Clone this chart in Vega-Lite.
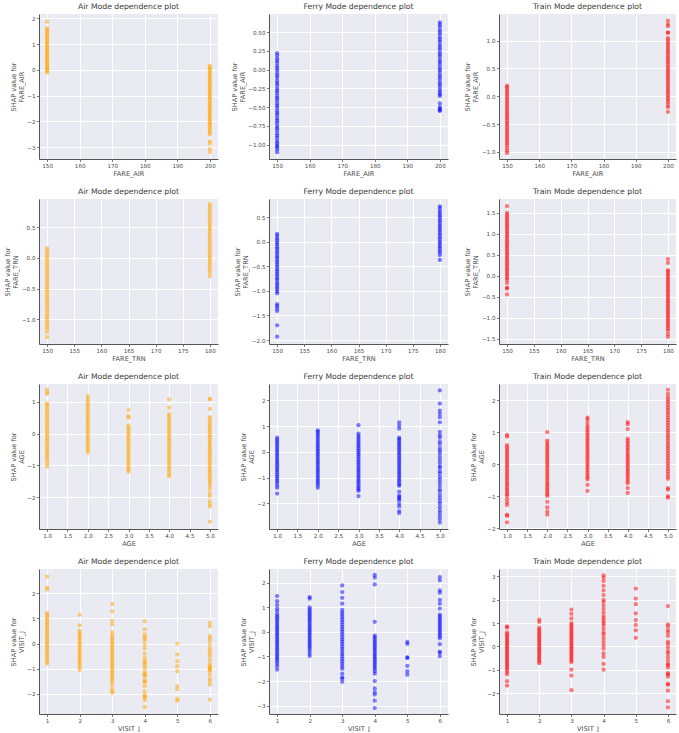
{
  "$schema": "https://vega.github.io/schema/vega-lite/v6.json",
  "padding": {"left": 4, "top": 3, "right": 4, "bottom": 0},
  "datasets": {
    "air_fare_air": [
      {"x":150,"y":1.87},{"x":150,"y":1.62},{"x":150,"y":1.56},{"x":150,"y":1.5},{"x":150,"y":1.43},{"x":150,"y":1.37},{"x":150,"y":1.3},{"x":150,"y":1.24},{"x":150,"y":1.17},{"x":150,"y":1.11},{"x":150,"y":1.04},{"x":150,"y":0.97},{"x":150,"y":0.91},{"x":150,"y":0.85},{"x":150,"y":0.78},{"x":150,"y":0.71},{"x":150,"y":0.65},{"x":150,"y":0.58},{"x":150,"y":0.52},{"x":150,"y":0.46},{"x":150,"y":0.39},{"x":150,"y":0.33},{"x":150,"y":0.26},{"x":150,"y":0.2},{"x":150,"y":0.14},{"x":150,"y":0.08},{"x":150,"y":0.02},{"x":150,"y":-0.04},{"x":150,"y":-0.11},
      {"x":200,"y":0.17},{"x":200,"y":0.1},{"x":200,"y":0.04},{"x":200,"y":-0.03},{"x":200,"y":-0.1},{"x":200,"y":-0.17},{"x":200,"y":-0.24},{"x":200,"y":-0.31},{"x":200,"y":-0.38},{"x":200,"y":-0.44},{"x":200,"y":-0.51},{"x":200,"y":-0.58},{"x":200,"y":-0.65},{"x":200,"y":-0.72},{"x":200,"y":-0.79},{"x":200,"y":-0.86},{"x":200,"y":-0.93},{"x":200,"y":-0.99},{"x":200,"y":-1.06},{"x":200,"y":-1.13},{"x":200,"y":-1.2},{"x":200,"y":-1.27},{"x":200,"y":-1.34},{"x":200,"y":-1.41},{"x":200,"y":-1.48},{"x":200,"y":-1.55},{"x":200,"y":-1.61},{"x":200,"y":-1.68},{"x":200,"y":-1.75},{"x":200,"y":-1.82},{"x":200,"y":-1.89},{"x":200,"y":-1.96},{"x":200,"y":-2.03},{"x":200,"y":-2.1},{"x":200,"y":-2.16},{"x":200,"y":-2.23},{"x":200,"y":-2.3},{"x":200,"y":-2.37},{"x":200,"y":-2.44},{"x":200,"y":-2.51},{"x":200,"y":-2.78},{"x":200,"y":-2.86},{"x":200,"y":-3.08},{"x":200,"y":-3.19}
    ],
    "ferry_fare_air": [
      {"x":150,"y":0.22},{"x":150,"y":0.19},{"x":150,"y":0.15},{"x":150,"y":0.12},{"x":150,"y":0.09},{"x":150,"y":0.05},{"x":150,"y":0.02},{"x":150,"y":-0.01},{"x":150,"y":-0.05},{"x":150,"y":-0.08},{"x":150,"y":-0.11},{"x":150,"y":-0.15},{"x":150,"y":-0.18},{"x":150,"y":-0.21},{"x":150,"y":-0.25},{"x":150,"y":-0.28},{"x":150,"y":-0.31},{"x":150,"y":-0.35},{"x":150,"y":-0.38},{"x":150,"y":-0.41},{"x":150,"y":-0.45},{"x":150,"y":-0.48},{"x":150,"y":-0.51},{"x":150,"y":-0.55},{"x":150,"y":-0.58},{"x":150,"y":-0.61},{"x":150,"y":-0.65},{"x":150,"y":-0.68},{"x":150,"y":-0.71},{"x":150,"y":-0.75},{"x":150,"y":-0.78},{"x":150,"y":-0.81},{"x":150,"y":-0.85},{"x":150,"y":-0.88},{"x":150,"y":-0.91},{"x":150,"y":-0.95},{"x":150,"y":-0.98},{"x":150,"y":-1.01},{"x":150,"y":-1.03},{"x":150,"y":-1.06},{"x":150,"y":-1.1},
      {"x":200,"y":0.63},{"x":200,"y":0.6},{"x":200,"y":0.57},{"x":200,"y":0.53},{"x":200,"y":0.5},{"x":200,"y":0.47},{"x":200,"y":0.43},{"x":200,"y":0.4},{"x":200,"y":0.37},{"x":200,"y":0.33},{"x":200,"y":0.3},{"x":200,"y":0.27},{"x":200,"y":0.23},{"x":200,"y":0.2},{"x":200,"y":0.17},{"x":200,"y":0.13},{"x":200,"y":0.1},{"x":200,"y":0.07},{"x":200,"y":0.03},{"x":200,"y":0.0},{"x":200,"y":-0.03},{"x":200,"y":-0.07},{"x":200,"y":-0.1},{"x":200,"y":-0.13},{"x":200,"y":-0.17},{"x":200,"y":-0.2},{"x":200,"y":-0.23},{"x":200,"y":-0.27},{"x":200,"y":-0.3},{"x":200,"y":-0.33},{"x":200,"y":-0.35},{"x":200,"y":-0.45},{"x":200,"y":-0.5},{"x":200,"y":-0.52},{"x":200,"y":-0.54},{"x":200,"y":-0.55}
    ],
    "train_fare_air": [
      {"x":150,"y":0.19},{"x":150,"y":0.16},{"x":150,"y":0.12},{"x":150,"y":0.08},{"x":150,"y":0.04},{"x":150,"y":0.0},{"x":150,"y":-0.04},{"x":150,"y":-0.08},{"x":150,"y":-0.12},{"x":150,"y":-0.16},{"x":150,"y":-0.2},{"x":150,"y":-0.24},{"x":150,"y":-0.28},{"x":150,"y":-0.32},{"x":150,"y":-0.36},{"x":150,"y":-0.4},{"x":150,"y":-0.44},{"x":150,"y":-0.48},{"x":150,"y":-0.52},{"x":150,"y":-0.56},{"x":150,"y":-0.6},{"x":150,"y":-0.64},{"x":150,"y":-0.68},{"x":150,"y":-0.72},{"x":150,"y":-0.76},{"x":150,"y":-0.8},{"x":150,"y":-0.84},{"x":150,"y":-0.88},{"x":150,"y":-0.93},{"x":150,"y":-0.98},{"x":150,"y":-1.02},
      {"x":200,"y":1.36},{"x":200,"y":1.3},{"x":200,"y":1.26},{"x":200,"y":1.15},{"x":200,"y":1.14},{"x":200,"y":1.05},{"x":200,"y":1.01},{"x":200,"y":0.97},{"x":200,"y":0.93},{"x":200,"y":0.89},{"x":200,"y":0.85},{"x":200,"y":0.81},{"x":200,"y":0.77},{"x":200,"y":0.73},{"x":200,"y":0.69},{"x":200,"y":0.65},{"x":200,"y":0.61},{"x":200,"y":0.57},{"x":200,"y":0.53},{"x":200,"y":0.49},{"x":200,"y":0.45},{"x":200,"y":0.41},{"x":200,"y":0.37},{"x":200,"y":0.33},{"x":200,"y":0.29},{"x":200,"y":0.25},{"x":200,"y":0.21},{"x":200,"y":0.17},{"x":200,"y":0.13},{"x":200,"y":0.09},{"x":200,"y":0.05},{"x":200,"y":0.01},{"x":200,"y":-0.03},{"x":200,"y":-0.07},{"x":200,"y":-0.11},{"x":200,"y":-0.16},{"x":200,"y":-0.2},{"x":200,"y":-0.28}
    ],
    "air_fare_trn": [
      {"x":150,"y":0.16},{"x":150,"y":0.12},{"x":150,"y":0.08},{"x":150,"y":0.04},{"x":150,"y":0.0},{"x":150,"y":-0.04},{"x":150,"y":-0.08},{"x":150,"y":-0.12},{"x":150,"y":-0.16},{"x":150,"y":-0.2},{"x":150,"y":-0.24},{"x":150,"y":-0.28},{"x":150,"y":-0.32},{"x":150,"y":-0.36},{"x":150,"y":-0.4},{"x":150,"y":-0.44},{"x":150,"y":-0.48},{"x":150,"y":-0.52},{"x":150,"y":-0.56},{"x":150,"y":-0.6},{"x":150,"y":-0.64},{"x":150,"y":-0.68},{"x":150,"y":-0.72},{"x":150,"y":-0.76},{"x":150,"y":-0.8},{"x":150,"y":-0.84},{"x":150,"y":-0.88},{"x":150,"y":-0.92},{"x":150,"y":-0.96},{"x":150,"y":-1.0},{"x":150,"y":-1.04},{"x":150,"y":-1.08},{"x":150,"y":-1.12},{"x":150,"y":-1.16},{"x":150,"y":-1.21},{"x":150,"y":-1.29},
      {"x":180,"y":0.88},{"x":180,"y":0.84},{"x":180,"y":0.8},{"x":180,"y":0.76},{"x":180,"y":0.72},{"x":180,"y":0.68},{"x":180,"y":0.64},{"x":180,"y":0.6},{"x":180,"y":0.56},{"x":180,"y":0.52},{"x":180,"y":0.48},{"x":180,"y":0.44},{"x":180,"y":0.4},{"x":180,"y":0.36},{"x":180,"y":0.32},{"x":180,"y":0.28},{"x":180,"y":0.24},{"x":180,"y":0.2},{"x":180,"y":0.16},{"x":180,"y":0.12},{"x":180,"y":0.08},{"x":180,"y":0.04},{"x":180,"y":0.0},{"x":180,"y":-0.04},{"x":180,"y":-0.08},{"x":180,"y":-0.12},{"x":180,"y":-0.16},{"x":180,"y":-0.2},{"x":180,"y":-0.25},{"x":180,"y":-0.3}
    ],
    "ferry_fare_trn": [
      {"x":150,"y":0.16},{"x":150,"y":0.12},{"x":150,"y":0.07},{"x":150,"y":0.03},{"x":150,"y":-0.02},{"x":150,"y":-0.06},{"x":150,"y":-0.11},{"x":150,"y":-0.15},{"x":150,"y":-0.2},{"x":150,"y":-0.24},{"x":150,"y":-0.29},{"x":150,"y":-0.33},{"x":150,"y":-0.38},{"x":150,"y":-0.42},{"x":150,"y":-0.47},{"x":150,"y":-0.51},{"x":150,"y":-0.56},{"x":150,"y":-0.6},{"x":150,"y":-0.65},{"x":150,"y":-0.69},{"x":150,"y":-0.74},{"x":150,"y":-0.78},{"x":150,"y":-0.83},{"x":150,"y":-0.87},{"x":150,"y":-0.92},{"x":150,"y":-0.96},{"x":150,"y":-1.01},{"x":150,"y":-1.05},{"x":150,"y":-1.27},{"x":150,"y":-1.31},{"x":150,"y":-1.36},{"x":150,"y":-1.41},{"x":150,"y":-1.7},{"x":150,"y":-1.93},
      {"x":180,"y":0.72},{"x":180,"y":0.68},{"x":180,"y":0.63},{"x":180,"y":0.59},{"x":180,"y":0.54},{"x":180,"y":0.5},{"x":180,"y":0.45},{"x":180,"y":0.41},{"x":180,"y":0.36},{"x":180,"y":0.32},{"x":180,"y":0.27},{"x":180,"y":0.23},{"x":180,"y":0.18},{"x":180,"y":0.14},{"x":180,"y":0.09},{"x":180,"y":0.05},{"x":180,"y":0.0},{"x":180,"y":-0.04},{"x":180,"y":-0.09},{"x":180,"y":-0.13},{"x":180,"y":-0.18},{"x":180,"y":-0.22},{"x":180,"y":-0.27},{"x":180,"y":-0.37}
    ],
    "train_fare_trn": [
      {"x":150,"y":1.66},{"x":150,"y":1.5},{"x":150,"y":1.45},{"x":150,"y":1.4},{"x":150,"y":1.35},{"x":150,"y":1.3},{"x":150,"y":1.25},{"x":150,"y":1.2},{"x":150,"y":1.15},{"x":150,"y":1.1},{"x":150,"y":1.05},{"x":150,"y":1.0},{"x":150,"y":0.95},{"x":150,"y":0.9},{"x":150,"y":0.85},{"x":150,"y":0.8},{"x":150,"y":0.75},{"x":150,"y":0.7},{"x":150,"y":0.65},{"x":150,"y":0.6},{"x":150,"y":0.55},{"x":150,"y":0.5},{"x":150,"y":0.45},{"x":150,"y":0.4},{"x":150,"y":0.35},{"x":150,"y":0.3},{"x":150,"y":0.25},{"x":150,"y":0.2},{"x":150,"y":0.15},{"x":150,"y":0.1},{"x":150,"y":0.05},{"x":150,"y":0.0},{"x":150,"y":-0.05},{"x":150,"y":-0.1},{"x":150,"y":-0.17},{"x":150,"y":-0.28},{"x":150,"y":-0.3},{"x":150,"y":-0.44},
      {"x":180,"y":0.4},{"x":180,"y":0.31},{"x":180,"y":0.14},{"x":180,"y":0.1},{"x":180,"y":0.05},{"x":180,"y":0.0},{"x":180,"y":-0.05},{"x":180,"y":-0.1},{"x":180,"y":-0.15},{"x":180,"y":-0.2},{"x":180,"y":-0.25},{"x":180,"y":-0.3},{"x":180,"y":-0.35},{"x":180,"y":-0.4},{"x":180,"y":-0.45},{"x":180,"y":-0.5},{"x":180,"y":-0.55},{"x":180,"y":-0.6},{"x":180,"y":-0.65},{"x":180,"y":-0.7},{"x":180,"y":-0.75},{"x":180,"y":-0.8},{"x":180,"y":-0.85},{"x":180,"y":-0.9},{"x":180,"y":-0.95},{"x":180,"y":-1.0},{"x":180,"y":-1.05},{"x":180,"y":-1.1},{"x":180,"y":-1.15},{"x":180,"y":-1.2},{"x":180,"y":-1.25},{"x":180,"y":-1.3},{"x":180,"y":-1.38},{"x":180,"y":-1.45}
    ],
    "air_age": [
      {"x":1,"y":1.38},{"x":1,"y":1.3},{"x":1,"y":1.25},{"x":1,"y":0.95},{"x":1,"y":0.9},{"x":1,"y":0.83},{"x":1,"y":0.76},{"x":1,"y":0.69},{"x":1,"y":0.62},{"x":1,"y":0.55},{"x":1,"y":0.48},{"x":1,"y":0.41},{"x":1,"y":0.34},{"x":1,"y":0.27},{"x":1,"y":0.2},{"x":1,"y":0.13},{"x":1,"y":0.06},{"x":1,"y":-0.01},{"x":1,"y":-0.08},{"x":1,"y":-0.15},{"x":1,"y":-0.22},{"x":1,"y":-0.29},{"x":1,"y":-0.36},{"x":1,"y":-0.43},{"x":1,"y":-0.5},{"x":1,"y":-0.57},{"x":1,"y":-0.64},{"x":1,"y":-0.71},{"x":1,"y":-0.78},{"x":1,"y":-0.86},{"x":1,"y":-0.95},{"x":1,"y":-1.04},
      {"x":2,"y":1.18},{"x":2,"y":1.1},{"x":2,"y":1.02},{"x":2,"y":0.95},{"x":2,"y":0.88},{"x":2,"y":0.81},{"x":2,"y":0.74},{"x":2,"y":0.67},{"x":2,"y":0.6},{"x":2,"y":0.53},{"x":2,"y":0.46},{"x":2,"y":0.39},{"x":2,"y":0.32},{"x":2,"y":0.25},{"x":2,"y":0.18},{"x":2,"y":0.11},{"x":2,"y":0.04},{"x":2,"y":-0.03},{"x":2,"y":-0.1},{"x":2,"y":-0.17},{"x":2,"y":-0.24},{"x":2,"y":-0.31},{"x":2,"y":-0.38},{"x":2,"y":-0.45},{"x":2,"y":-0.52},{"x":2,"y":-0.6},
      {"x":3,"y":0.74},{"x":3,"y":0.55},{"x":3,"y":0.5},{"x":3,"y":0.25},{"x":3,"y":0.19},{"x":3,"y":0.12},{"x":3,"y":0.05},{"x":3,"y":-0.02},{"x":3,"y":-0.09},{"x":3,"y":-0.16},{"x":3,"y":-0.23},{"x":3,"y":-0.3},{"x":3,"y":-0.37},{"x":3,"y":-0.44},{"x":3,"y":-0.51},{"x":3,"y":-0.58},{"x":3,"y":-0.65},{"x":3,"y":-0.72},{"x":3,"y":-0.79},{"x":3,"y":-0.86},{"x":3,"y":-0.93},{"x":3,"y":-1.0},{"x":3,"y":-1.08},{"x":3,"y":-1.14},{"x":3,"y":-1.2},
      {"x":4,"y":1.08},{"x":4,"y":0.82},{"x":4,"y":0.62},{"x":4,"y":0.55},{"x":4,"y":0.48},{"x":4,"y":0.41},{"x":4,"y":0.34},{"x":4,"y":0.27},{"x":4,"y":0.2},{"x":4,"y":0.13},{"x":4,"y":0.06},{"x":4,"y":-0.01},{"x":4,"y":-0.08},{"x":4,"y":-0.15},{"x":4,"y":-0.22},{"x":4,"y":-0.29},{"x":4,"y":-0.36},{"x":4,"y":-0.43},{"x":4,"y":-0.5},{"x":4,"y":-0.57},{"x":4,"y":-0.64},{"x":4,"y":-0.71},{"x":4,"y":-0.78},{"x":4,"y":-0.85},{"x":4,"y":-0.92},{"x":4,"y":-0.99},{"x":4,"y":-1.06},{"x":4,"y":-1.13},{"x":4,"y":-1.2},{"x":4,"y":-1.28},{"x":4,"y":-1.34},
      {"x":5,"y":1.1},{"x":5,"y":1.08},{"x":5,"y":0.78},{"x":5,"y":0.52},{"x":5,"y":0.45},{"x":5,"y":0.38},{"x":5,"y":0.31},{"x":5,"y":0.24},{"x":5,"y":0.17},{"x":5,"y":0.1},{"x":5,"y":0.03},{"x":5,"y":-0.04},{"x":5,"y":-0.11},{"x":5,"y":-0.18},{"x":5,"y":-0.25},{"x":5,"y":-0.32},{"x":5,"y":-0.39},{"x":5,"y":-0.46},{"x":5,"y":-0.53},{"x":5,"y":-0.6},{"x":5,"y":-0.67},{"x":5,"y":-0.74},{"x":5,"y":-0.81},{"x":5,"y":-0.88},{"x":5,"y":-0.95},{"x":5,"y":-1.02},{"x":5,"y":-1.09},{"x":5,"y":-1.16},{"x":5,"y":-1.23},{"x":5,"y":-1.3},{"x":5,"y":-1.37},{"x":5,"y":-1.44},{"x":5,"y":-1.51},{"x":5,"y":-1.58},{"x":5,"y":-1.65},{"x":5,"y":-1.75},{"x":5,"y":-1.88},{"x":5,"y":-1.97},{"x":5,"y":-2.12},{"x":5,"y":-2.22},{"x":5,"y":-2.29},{"x":5,"y":-2.77}
    ],
    "ferry_age": [
      {"x":1,"y":0.55},{"x":1,"y":0.48},{"x":1,"y":0.4},{"x":1,"y":0.32},{"x":1,"y":0.24},{"x":1,"y":0.16},{"x":1,"y":0.08},{"x":1,"y":0.0},{"x":1,"y":-0.08},{"x":1,"y":-0.16},{"x":1,"y":-0.24},{"x":1,"y":-0.32},{"x":1,"y":-0.4},{"x":1,"y":-0.48},{"x":1,"y":-0.56},{"x":1,"y":-0.64},{"x":1,"y":-0.72},{"x":1,"y":-0.8},{"x":1,"y":-0.88},{"x":1,"y":-0.96},{"x":1,"y":-1.04},{"x":1,"y":-1.12},{"x":1,"y":-1.2},{"x":1,"y":-1.3},{"x":1,"y":-1.4},{"x":1,"y":-1.62},
      {"x":2,"y":0.84},{"x":2,"y":0.78},{"x":2,"y":0.7},{"x":2,"y":0.62},{"x":2,"y":0.54},{"x":2,"y":0.46},{"x":2,"y":0.38},{"x":2,"y":0.3},{"x":2,"y":0.22},{"x":2,"y":0.14},{"x":2,"y":0.06},{"x":2,"y":-0.02},{"x":2,"y":-0.1},{"x":2,"y":-0.18},{"x":2,"y":-0.26},{"x":2,"y":-0.34},{"x":2,"y":-0.42},{"x":2,"y":-0.5},{"x":2,"y":-0.58},{"x":2,"y":-0.66},{"x":2,"y":-0.74},{"x":2,"y":-0.82},{"x":2,"y":-0.9},{"x":2,"y":-0.98},{"x":2,"y":-1.06},{"x":2,"y":-1.14},{"x":2,"y":-1.22},{"x":2,"y":-1.3},{"x":2,"y":-1.4},
      {"x":3,"y":1.04},{"x":3,"y":0.71},{"x":3,"y":0.62},{"x":3,"y":0.54},{"x":3,"y":0.46},{"x":3,"y":0.38},{"x":3,"y":0.3},{"x":3,"y":0.22},{"x":3,"y":0.14},{"x":3,"y":0.06},{"x":3,"y":-0.02},{"x":3,"y":-0.1},{"x":3,"y":-0.18},{"x":3,"y":-0.26},{"x":3,"y":-0.34},{"x":3,"y":-0.42},{"x":3,"y":-0.5},{"x":3,"y":-0.58},{"x":3,"y":-0.66},{"x":3,"y":-0.74},{"x":3,"y":-0.82},{"x":3,"y":-0.9},{"x":3,"y":-0.98},{"x":3,"y":-1.06},{"x":3,"y":-1.14},{"x":3,"y":-1.22},{"x":3,"y":-1.3},{"x":3,"y":-1.38},{"x":3,"y":-1.45},{"x":3,"y":-1.52},{"x":3,"y":-1.72},
      {"x":4,"y":1.15},{"x":4,"y":1.02},{"x":4,"y":0.9},{"x":4,"y":0.55},{"x":4,"y":0.5},{"x":4,"y":0.42},{"x":4,"y":0.34},{"x":4,"y":0.26},{"x":4,"y":0.18},{"x":4,"y":0.1},{"x":4,"y":0.02},{"x":4,"y":-0.06},{"x":4,"y":-0.14},{"x":4,"y":-0.22},{"x":4,"y":-0.3},{"x":4,"y":-0.38},{"x":4,"y":-0.46},{"x":4,"y":-0.54},{"x":4,"y":-0.62},{"x":4,"y":-0.7},{"x":4,"y":-0.78},{"x":4,"y":-0.86},{"x":4,"y":-0.94},{"x":4,"y":-1.02},{"x":4,"y":-1.1},{"x":4,"y":-1.18},{"x":4,"y":-1.26},{"x":4,"y":-1.32},{"x":4,"y":-1.55},{"x":4,"y":-1.7},{"x":4,"y":-1.76},{"x":4,"y":-1.82},{"x":4,"y":-1.88},{"x":4,"y":-2.02},{"x":4,"y":-2.12},{"x":4,"y":-2.3},{"x":4,"y":-2.38},
      {"x":5,"y":2.39},{"x":5,"y":1.88},{"x":5,"y":1.6},{"x":5,"y":1.48},{"x":5,"y":1.35},{"x":5,"y":1.15},{"x":5,"y":0.78},{"x":5,"y":0.65},{"x":5,"y":0.55},{"x":5,"y":0.4},{"x":5,"y":0.3},{"x":5,"y":0.15},{"x":5,"y":0.05},{"x":5,"y":-0.05},{"x":5,"y":-0.18},{"x":5,"y":-0.3},{"x":5,"y":-0.42},{"x":5,"y":-0.55},{"x":5,"y":-0.62},{"x":5,"y":-0.75},{"x":5,"y":-0.85},{"x":5,"y":-0.98},{"x":5,"y":-1.08},{"x":5,"y":-1.2},{"x":5,"y":-1.32},{"x":5,"y":-1.45},{"x":5,"y":-1.55},{"x":5,"y":-1.68},{"x":5,"y":-1.8},{"x":5,"y":-1.92},{"x":5,"y":-2.02},{"x":5,"y":-2.15},{"x":5,"y":-2.28},{"x":5,"y":-2.38},{"x":5,"y":-2.5},{"x":5,"y":-2.62},{"x":5,"y":-2.75}
    ],
    "train_age": [
      {"x":1,"y":0.92},{"x":1,"y":0.86},{"x":1,"y":0.6},{"x":1,"y":0.53},{"x":1,"y":0.46},{"x":1,"y":0.39},{"x":1,"y":0.32},{"x":1,"y":0.25},{"x":1,"y":0.18},{"x":1,"y":0.11},{"x":1,"y":0.04},{"x":1,"y":-0.03},{"x":1,"y":-0.1},{"x":1,"y":-0.17},{"x":1,"y":-0.24},{"x":1,"y":-0.31},{"x":1,"y":-0.38},{"x":1,"y":-0.45},{"x":1,"y":-0.52},{"x":1,"y":-0.59},{"x":1,"y":-0.66},{"x":1,"y":-0.73},{"x":1,"y":-0.8},{"x":1,"y":-0.87},{"x":1,"y":-0.94},{"x":1,"y":-1.0},{"x":1,"y":-1.1},{"x":1,"y":-1.2},{"x":1,"y":-1.28},{"x":1,"y":-1.58},{"x":1,"y":-1.62},{"x":1,"y":-1.82},
      {"x":2,"y":1.0},{"x":2,"y":0.74},{"x":2,"y":0.67},{"x":2,"y":0.6},{"x":2,"y":0.53},{"x":2,"y":0.46},{"x":2,"y":0.39},{"x":2,"y":0.32},{"x":2,"y":0.25},{"x":2,"y":0.18},{"x":2,"y":0.11},{"x":2,"y":0.04},{"x":2,"y":-0.03},{"x":2,"y":-0.1},{"x":2,"y":-0.17},{"x":2,"y":-0.24},{"x":2,"y":-0.31},{"x":2,"y":-0.38},{"x":2,"y":-0.45},{"x":2,"y":-0.52},{"x":2,"y":-0.59},{"x":2,"y":-0.66},{"x":2,"y":-0.73},{"x":2,"y":-0.8},{"x":2,"y":-0.87},{"x":2,"y":-0.94},{"x":2,"y":-1.0},{"x":2,"y":-1.18},{"x":2,"y":-1.35},{"x":2,"y":-1.48},{"x":2,"y":-1.58},
      {"x":3,"y":1.46},{"x":3,"y":1.4},{"x":3,"y":1.3},{"x":3,"y":1.2},{"x":3,"y":1.13},{"x":3,"y":1.06},{"x":3,"y":0.99},{"x":3,"y":0.92},{"x":3,"y":0.85},{"x":3,"y":0.78},{"x":3,"y":0.71},{"x":3,"y":0.64},{"x":3,"y":0.57},{"x":3,"y":0.5},{"x":3,"y":0.43},{"x":3,"y":0.36},{"x":3,"y":0.29},{"x":3,"y":0.22},{"x":3,"y":0.15},{"x":3,"y":0.08},{"x":3,"y":0.01},{"x":3,"y":-0.06},{"x":3,"y":-0.13},{"x":3,"y":-0.2},{"x":3,"y":-0.27},{"x":3,"y":-0.34},{"x":3,"y":-0.41},{"x":3,"y":-0.48},{"x":3,"y":-0.65},{"x":3,"y":-0.84},
      {"x":4,"y":1.32},{"x":4,"y":1.25},{"x":4,"y":1.1},{"x":4,"y":0.8},{"x":4,"y":0.73},{"x":4,"y":0.66},{"x":4,"y":0.59},{"x":4,"y":0.52},{"x":4,"y":0.45},{"x":4,"y":0.38},{"x":4,"y":0.31},{"x":4,"y":0.24},{"x":4,"y":0.17},{"x":4,"y":0.1},{"x":4,"y":0.03},{"x":4,"y":-0.04},{"x":4,"y":-0.11},{"x":4,"y":-0.18},{"x":4,"y":-0.25},{"x":4,"y":-0.32},{"x":4,"y":-0.39},{"x":4,"y":-0.46},{"x":4,"y":-0.53},{"x":4,"y":-0.6},{"x":4,"y":-0.75},{"x":4,"y":-0.9},
      {"x":5,"y":2.33},{"x":5,"y":2.2},{"x":5,"y":2.1},{"x":5,"y":2.02},{"x":5,"y":1.94},{"x":5,"y":1.86},{"x":5,"y":1.78},{"x":5,"y":1.7},{"x":5,"y":1.62},{"x":5,"y":1.54},{"x":5,"y":1.46},{"x":5,"y":1.38},{"x":5,"y":1.3},{"x":5,"y":1.22},{"x":5,"y":1.14},{"x":5,"y":1.06},{"x":5,"y":0.98},{"x":5,"y":0.9},{"x":5,"y":0.82},{"x":5,"y":0.74},{"x":5,"y":0.66},{"x":5,"y":0.58},{"x":5,"y":0.5},{"x":5,"y":0.42},{"x":5,"y":0.34},{"x":5,"y":0.26},{"x":5,"y":0.18},{"x":5,"y":0.1},{"x":5,"y":0.02},{"x":5,"y":-0.06},{"x":5,"y":-0.14},{"x":5,"y":-0.22},{"x":5,"y":-0.3},{"x":5,"y":-0.38},{"x":5,"y":-0.46},{"x":5,"y":-0.75},{"x":5,"y":-0.8},{"x":5,"y":-1.0},{"x":5,"y":-1.05}
    ],
    "air_visit_j": [
      {"x":1,"y":2.66},{"x":1,"y":2.22},{"x":1,"y":2.15},{"x":1,"y":1.22},{"x":1,"y":1.14},{"x":1,"y":1.06},{"x":1,"y":0.98},{"x":1,"y":0.9},{"x":1,"y":0.82},{"x":1,"y":0.74},{"x":1,"y":0.66},{"x":1,"y":0.58},{"x":1,"y":0.5},{"x":1,"y":0.42},{"x":1,"y":0.34},{"x":1,"y":0.26},{"x":1,"y":0.18},{"x":1,"y":0.1},{"x":1,"y":0.02},{"x":1,"y":-0.06},{"x":1,"y":-0.14},{"x":1,"y":-0.22},{"x":1,"y":-0.3},{"x":1,"y":-0.38},{"x":1,"y":-0.46},{"x":1,"y":-0.55},{"x":1,"y":-0.62},{"x":1,"y":-0.72},{"x":1,"y":-0.8},
      {"x":2,"y":1.15},{"x":2,"y":0.72},{"x":2,"y":0.5},{"x":2,"y":0.42},{"x":2,"y":0.34},{"x":2,"y":0.26},{"x":2,"y":0.18},{"x":2,"y":0.1},{"x":2,"y":0.02},{"x":2,"y":-0.06},{"x":2,"y":-0.14},{"x":2,"y":-0.22},{"x":2,"y":-0.3},{"x":2,"y":-0.38},{"x":2,"y":-0.46},{"x":2,"y":-0.54},{"x":2,"y":-0.62},{"x":2,"y":-0.7},{"x":2,"y":-0.78},{"x":2,"y":-0.86},{"x":2,"y":-0.95},{"x":2,"y":-1.05},
      {"x":3,"y":1.57},{"x":3,"y":1.28},{"x":3,"y":0.9},{"x":3,"y":0.76},{"x":3,"y":0.45},{"x":3,"y":0.32},{"x":3,"y":0.24},{"x":3,"y":0.16},{"x":3,"y":0.08},{"x":3,"y":0.0},{"x":3,"y":-0.08},{"x":3,"y":-0.16},{"x":3,"y":-0.24},{"x":3,"y":-0.32},{"x":3,"y":-0.4},{"x":3,"y":-0.48},{"x":3,"y":-0.56},{"x":3,"y":-0.64},{"x":3,"y":-0.72},{"x":3,"y":-0.8},{"x":3,"y":-0.88},{"x":3,"y":-0.96},{"x":3,"y":-1.04},{"x":3,"y":-1.12},{"x":3,"y":-1.2},{"x":3,"y":-1.28},{"x":3,"y":-1.36},{"x":3,"y":-1.44},{"x":3,"y":-1.52},{"x":3,"y":-1.65},{"x":3,"y":-1.8},{"x":3,"y":-1.9},{"x":3,"y":-1.96},
      {"x":4,"y":0.88},{"x":4,"y":0.56},{"x":4,"y":0.36},{"x":4,"y":0.26},{"x":4,"y":0.2},{"x":4,"y":0.1},{"x":4,"y":-0.05},{"x":4,"y":-0.2},{"x":4,"y":-0.4},{"x":4,"y":-0.55},{"x":4,"y":-0.68},{"x":4,"y":-0.75},{"x":4,"y":-0.8},{"x":4,"y":-0.9},{"x":4,"y":-1.0},{"x":4,"y":-1.15},{"x":4,"y":-1.22},{"x":4,"y":-1.26},{"x":4,"y":-1.3},{"x":4,"y":-1.45},{"x":4,"y":-1.5},{"x":4,"y":-1.55},{"x":4,"y":-1.7},{"x":4,"y":-1.9},{"x":4,"y":-2.05},{"x":4,"y":-2.1},{"x":4,"y":-2.15},{"x":4,"y":-2.25},{"x":4,"y":-2.53},
      {"x":5,"y":0.0},{"x":5,"y":-0.44},{"x":5,"y":-0.7},{"x":5,"y":-0.9},{"x":5,"y":-1.1},{"x":5,"y":-1.7},{"x":5,"y":-1.82},{"x":5,"y":-2.19},{"x":5,"y":-2.27},
      {"x":6,"y":0.82},{"x":6,"y":0.69},{"x":6,"y":0.29},{"x":6,"y":0.2},{"x":6,"y":0.09},{"x":6,"y":-0.05},{"x":6,"y":-0.2},{"x":6,"y":-0.3},{"x":6,"y":-0.4},{"x":6,"y":-0.5},{"x":6,"y":-0.65},{"x":6,"y":-0.8},{"x":6,"y":-0.9},{"x":6,"y":-0.95},{"x":6,"y":-1.0},{"x":6,"y":-1.05},{"x":6,"y":-1.1},{"x":6,"y":-1.25},{"x":6,"y":-1.4},{"x":6,"y":-1.5},{"x":6,"y":-1.63},{"x":6,"y":-2.23}
    ],
    "ferry_visit_j": [
      {"x":1,"y":1.46},{"x":1,"y":1.25},{"x":1,"y":1.1},{"x":1,"y":0.95},{"x":1,"y":0.85},{"x":1,"y":0.72},{"x":1,"y":0.64},{"x":1,"y":0.56},{"x":1,"y":0.48},{"x":1,"y":0.4},{"x":1,"y":0.32},{"x":1,"y":0.24},{"x":1,"y":0.16},{"x":1,"y":0.08},{"x":1,"y":0.0},{"x":1,"y":-0.08},{"x":1,"y":-0.16},{"x":1,"y":-0.24},{"x":1,"y":-0.32},{"x":1,"y":-0.4},{"x":1,"y":-0.48},{"x":1,"y":-0.56},{"x":1,"y":-0.64},{"x":1,"y":-0.72},{"x":1,"y":-0.8},{"x":1,"y":-0.88},{"x":1,"y":-0.96},{"x":1,"y":-1.04},{"x":1,"y":-1.12},{"x":1,"y":-1.2},{"x":1,"y":-1.3},{"x":1,"y":-1.4},{"x":1,"y":-1.53},
      {"x":2,"y":1.42},{"x":2,"y":1.35},{"x":2,"y":1.0},{"x":2,"y":0.92},{"x":2,"y":0.84},{"x":2,"y":0.76},{"x":2,"y":0.68},{"x":2,"y":0.6},{"x":2,"y":0.52},{"x":2,"y":0.44},{"x":2,"y":0.36},{"x":2,"y":0.28},{"x":2,"y":0.2},{"x":2,"y":0.12},{"x":2,"y":0.04},{"x":2,"y":-0.04},{"x":2,"y":-0.12},{"x":2,"y":-0.2},{"x":2,"y":-0.28},{"x":2,"y":-0.36},{"x":2,"y":-0.44},{"x":2,"y":-0.52},{"x":2,"y":-0.6},{"x":2,"y":-0.68},{"x":2,"y":-0.78},{"x":2,"y":-0.88},{"x":2,"y":-0.98},
      {"x":3,"y":1.89},{"x":3,"y":1.62},{"x":3,"y":1.39},{"x":3,"y":1.15},{"x":3,"y":0.9},{"x":3,"y":0.8},{"x":3,"y":0.7},{"x":3,"y":0.6},{"x":3,"y":0.5},{"x":3,"y":0.4},{"x":3,"y":0.3},{"x":3,"y":0.2},{"x":3,"y":0.1},{"x":3,"y":0.0},{"x":3,"y":-0.1},{"x":3,"y":-0.2},{"x":3,"y":-0.3},{"x":3,"y":-0.4},{"x":3,"y":-0.5},{"x":3,"y":-0.6},{"x":3,"y":-0.7},{"x":3,"y":-0.8},{"x":3,"y":-0.9},{"x":3,"y":-1.0},{"x":3,"y":-1.1},{"x":3,"y":-1.2},{"x":3,"y":-1.3},{"x":3,"y":-1.4},{"x":3,"y":-1.5},{"x":3,"y":-1.7},{"x":3,"y":-1.85},{"x":3,"y":-1.9},{"x":3,"y":-2.03},
      {"x":4,"y":2.32},{"x":4,"y":2.21},{"x":4,"y":1.93},{"x":4,"y":0.41},{"x":4,"y":-0.15},{"x":4,"y":-0.22},{"x":4,"y":-0.3},{"x":4,"y":-0.38},{"x":4,"y":-0.46},{"x":4,"y":-0.54},{"x":4,"y":-0.62},{"x":4,"y":-0.7},{"x":4,"y":-0.78},{"x":4,"y":-0.86},{"x":4,"y":-0.94},{"x":4,"y":-1.02},{"x":4,"y":-1.1},{"x":4,"y":-1.18},{"x":4,"y":-1.26},{"x":4,"y":-1.34},{"x":4,"y":-1.42},{"x":4,"y":-1.5},{"x":4,"y":-1.6},{"x":4,"y":-1.7},{"x":4,"y":-2.0},{"x":4,"y":-2.3},{"x":4,"y":-2.45},{"x":4,"y":-2.55},{"x":4,"y":-2.8},{"x":4,"y":-3.1},
      {"x":5,"y":-0.41},{"x":5,"y":-0.49},{"x":5,"y":-1.04},{"x":5,"y":-1.06},{"x":5,"y":-1.38},{"x":5,"y":-1.61},{"x":5,"y":-1.74},
      {"x":6,"y":2.23},{"x":6,"y":2.1},{"x":6,"y":1.69},{"x":6,"y":1.59},{"x":6,"y":1.3},{"x":6,"y":1.15},{"x":6,"y":0.95},{"x":6,"y":0.7},{"x":6,"y":0.62},{"x":6,"y":0.54},{"x":6,"y":0.46},{"x":6,"y":0.38},{"x":6,"y":0.3},{"x":6,"y":0.22},{"x":6,"y":0.14},{"x":6,"y":0.06},{"x":6,"y":-0.02},{"x":6,"y":-0.1},{"x":6,"y":-0.18},{"x":6,"y":-0.26},{"x":6,"y":-0.5},{"x":6,"y":-0.8},{"x":6,"y":-0.85},{"x":6,"y":-0.99}
    ],
    "train_visit_j": [
      {"x":1,"y":0.86},{"x":1,"y":0.8},{"x":1,"y":0.6},{"x":1,"y":0.52},{"x":1,"y":0.44},{"x":1,"y":0.36},{"x":1,"y":0.28},{"x":1,"y":0.2},{"x":1,"y":0.12},{"x":1,"y":0.04},{"x":1,"y":-0.04},{"x":1,"y":-0.12},{"x":1,"y":-0.2},{"x":1,"y":-0.28},{"x":1,"y":-0.36},{"x":1,"y":-0.44},{"x":1,"y":-0.52},{"x":1,"y":-0.6},{"x":1,"y":-0.68},{"x":1,"y":-0.76},{"x":1,"y":-0.84},{"x":1,"y":-0.92},{"x":1,"y":-1.0},{"x":1,"y":-1.1},{"x":1,"y":-1.2},{"x":1,"y":-1.49},{"x":1,"y":-1.68},
      {"x":2,"y":1.15},{"x":2,"y":1.05},{"x":2,"y":0.8},{"x":2,"y":0.72},{"x":2,"y":0.64},{"x":2,"y":0.56},{"x":2,"y":0.48},{"x":2,"y":0.4},{"x":2,"y":0.32},{"x":2,"y":0.24},{"x":2,"y":0.16},{"x":2,"y":0.08},{"x":2,"y":0.0},{"x":2,"y":-0.08},{"x":2,"y":-0.16},{"x":2,"y":-0.24},{"x":2,"y":-0.32},{"x":2,"y":-0.4},{"x":2,"y":-0.48},{"x":2,"y":-0.56},{"x":2,"y":-0.64},{"x":2,"y":-0.72},
      {"x":3,"y":1.58},{"x":3,"y":1.4},{"x":3,"y":1.2},{"x":3,"y":1.0},{"x":3,"y":0.92},{"x":3,"y":0.84},{"x":3,"y":0.76},{"x":3,"y":0.68},{"x":3,"y":0.6},{"x":3,"y":0.52},{"x":3,"y":0.44},{"x":3,"y":0.36},{"x":3,"y":0.28},{"x":3,"y":0.2},{"x":3,"y":0.12},{"x":3,"y":0.04},{"x":3,"y":-0.04},{"x":3,"y":-0.12},{"x":3,"y":-0.2},{"x":3,"y":-0.28},{"x":3,"y":-0.36},{"x":3,"y":-0.44},{"x":3,"y":-0.52},{"x":3,"y":-0.6},{"x":3,"y":-0.68},{"x":3,"y":-1.0},{"x":3,"y":-1.25},{"x":3,"y":-1.88},
      {"x":4,"y":3.05},{"x":4,"y":2.95},{"x":4,"y":2.8},{"x":4,"y":2.6},{"x":4,"y":2.4},{"x":4,"y":2.2},{"x":4,"y":2.0},{"x":4,"y":1.9},{"x":4,"y":1.75},{"x":4,"y":1.6},{"x":4,"y":1.45},{"x":4,"y":1.3},{"x":4,"y":1.2},{"x":4,"y":1.1},{"x":4,"y":1.0},{"x":4,"y":0.9},{"x":4,"y":0.75},{"x":4,"y":0.6},{"x":4,"y":0.5},{"x":4,"y":0.35},{"x":4,"y":0.2},{"x":4,"y":0.05},{"x":4,"y":-0.1},{"x":4,"y":-0.3},{"x":4,"y":-0.45},{"x":4,"y":-0.75},{"x":4,"y":-1.0},
      {"x":5,"y":2.48},{"x":5,"y":2.05},{"x":5,"y":1.81},{"x":5,"y":1.42},{"x":5,"y":1.13},{"x":5,"y":0.92},{"x":5,"y":0.69},{"x":5,"y":0.37},
      {"x":6,"y":1.73},{"x":6,"y":0.95},{"x":6,"y":0.85},{"x":6,"y":0.7},{"x":6,"y":0.6},{"x":6,"y":0.45},{"x":6,"y":0.2},{"x":6,"y":0.1},{"x":6,"y":-0.05},{"x":6,"y":-0.2},{"x":6,"y":-0.3},{"x":6,"y":-0.45},{"x":6,"y":-0.6},{"x":6,"y":-0.75},{"x":6,"y":-0.8},{"x":6,"y":-0.9},{"x":6,"y":-1.15},{"x":6,"y":-1.2},{"x":6,"y":-1.3},{"x":6,"y":-1.6},{"x":6,"y":-1.65},{"x":6,"y":-1.9},{"x":6,"y":-2.35},{"x":6,"y":-2.62}
    ]
  },
  "columns": 3,
  "spacing": {"row": 40, "column": 51},
  "bounds": "flush",
  "concat": [
    {"title": "Air Mode dependence plot", "width": 179, "height": 145, "data": {"name": "air_fare_air"}, "mark": {"type": "point", "color": "#FFA500"},
     "encoding": {"x": {"field": "x", "type": "quantitative", "scale": {"domain": [147.5, 202.5], "nice": false, "zero": false}, "axis": {"title": "FARE_AIR", "values": [150,160,170,180,190,200]}},
                  "y": {"field": "y", "type": "quantitative", "scale": {"domain": [-3.46, 2.17], "nice": false, "zero": false}, "axis": {"title": ["SHAP value for", "FARE_AIR"], "values": [-3,-2,-1,0,1,2]}}}},
    {"title": "Ferry Mode dependence plot", "width": 179, "height": 145, "data": {"name": "ferry_fare_air"}, "mark": {"type": "point", "color": "#0000FF"},
     "encoding": {"x": {"field": "x", "type": "quantitative", "scale": {"domain": [147.5, 202.5], "nice": false, "zero": false}, "axis": {"title": "FARE_AIR", "values": [150,160,170,180,190,200]}},
                  "y": {"field": "y", "type": "quantitative", "scale": {"domain": [-1.19, 0.74], "nice": false, "zero": false}, "axis": {"title": ["SHAP value for", "FARE_AIR"], "values": [-1,-0.75,-0.5,-0.25,0,0.25,0.5], "format": ".2f"}}}},
    {"title": "Train Mode dependence plot", "width": 177, "height": 145, "data": {"name": "train_fare_air"}, "mark": {"type": "point", "color": "#FF0000"},
     "encoding": {"x": {"field": "x", "type": "quantitative", "scale": {"domain": [147.5, 202.5], "nice": false, "zero": false}, "axis": {"title": "FARE_AIR", "values": [150,160,170,180,190,200]}},
                  "y": {"field": "y", "type": "quantitative", "scale": {"domain": [-1.13, 1.48], "nice": false, "zero": false}, "axis": {"title": ["SHAP value for", "FARE_AIR"], "values": [-1,-0.5,0,0.5,1], "format": ".1f"}}}},
    {"title": "Air Mode dependence plot", "width": 179, "height": 145, "data": {"name": "air_fare_trn"}, "mark": {"type": "point", "color": "#FFA500"},
     "encoding": {"x": {"field": "x", "type": "quantitative", "scale": {"domain": [148.5, 181.5], "nice": false, "zero": false}, "axis": {"title": "FARE_TRN", "values": [150,155,160,165,170,175,180]}},
                  "y": {"field": "y", "type": "quantitative", "scale": {"domain": [-1.4, 0.96], "nice": false, "zero": false}, "axis": {"title": ["SHAP value for", "FARE_TRN"], "values": [-1,-0.5,0,0.5], "format": ".1f"}}}},
    {"title": "Ferry Mode dependence plot", "width": 179, "height": 145, "data": {"name": "ferry_fare_trn"}, "mark": {"type": "point", "color": "#0000FF"},
     "encoding": {"x": {"field": "x", "type": "quantitative", "scale": {"domain": [148.5, 181.5], "nice": false, "zero": false}, "axis": {"title": "FARE_TRN", "values": [150,155,160,165,170,175,180]}},
                  "y": {"field": "y", "type": "quantitative", "scale": {"domain": [-2.08, 0.87], "nice": false, "zero": false}, "axis": {"title": ["SHAP value for", "FARE_TRN"], "values": [-2,-1.5,-1,-0.5,0,0.5], "format": ".1f"}}}},
    {"title": "Train Mode dependence plot", "width": 177, "height": 145, "data": {"name": "train_fare_trn"}, "mark": {"type": "point", "color": "#FF0000"},
     "encoding": {"x": {"field": "x", "type": "quantitative", "scale": {"domain": [148.5, 181.5], "nice": false, "zero": false}, "axis": {"title": "FARE_TRN", "values": [150,155,160,165,170,175,180]}},
                  "y": {"field": "y", "type": "quantitative", "scale": {"domain": [-1.62, 1.83], "nice": false, "zero": false}, "axis": {"title": ["SHAP value for", "FARE_TRN"], "values": [-1.5,-1,-0.5,0,0.5,1,1.5], "format": ".1f"}}}},
    {"title": "Air Mode dependence plot", "width": 179, "height": 145, "data": {"name": "air_age"}, "mark": {"type": "point", "color": "#FFA500"},
     "encoding": {"x": {"field": "x", "type": "quantitative", "scale": {"domain": [0.8, 5.2], "nice": false, "zero": false}, "axis": {"title": "AGE", "values": [1,1.5,2,2.5,3,3.5,4,4.5,5], "format": ".1f"}},
                  "y": {"field": "y", "type": "quantitative", "scale": {"domain": [-3.0, 1.56], "nice": false, "zero": false}, "axis": {"title": ["SHAP value for", "AGE"], "values": [-2,-1,0,1]}}}},
    {"title": "Ferry Mode dependence plot", "width": 179, "height": 145, "data": {"name": "ferry_age"}, "mark": {"type": "point", "color": "#0000FF"},
     "encoding": {"x": {"field": "x", "type": "quantitative", "scale": {"domain": [0.8, 5.2], "nice": false, "zero": false}, "axis": {"title": "AGE", "values": [1,1.5,2,2.5,3,3.5,4,4.5,5], "format": ".1f"}},
                  "y": {"field": "y", "type": "quantitative", "scale": {"domain": [-3.0, 2.64], "nice": false, "zero": false}, "axis": {"title": ["SHAP value for", "AGE"], "values": [-2,-1,0,1,2]}}}},
    {"title": "Train Mode dependence plot", "width": 177, "height": 145, "data": {"name": "train_age"}, "mark": {"type": "point", "color": "#FF0000"},
     "encoding": {"x": {"field": "x", "type": "quantitative", "scale": {"domain": [0.8, 5.2], "nice": false, "zero": false}, "axis": {"title": "AGE", "values": [1,1.5,2,2.5,3,3.5,4,4.5,5], "format": ".1f"}},
                  "y": {"field": "y", "type": "quantitative", "scale": {"domain": [-2.03, 2.51], "nice": false, "zero": false}, "axis": {"title": ["SHAP value for", "AGE"], "values": [-2,-1,0,1,2]}}}},
    {"title": "Air Mode dependence plot", "width": 179, "height": 145, "data": {"name": "air_visit_j"}, "mark": {"type": "point", "color": "#FFA500"},
     "encoding": {"x": {"field": "x", "type": "quantitative", "scale": {"domain": [0.75, 6.25], "nice": false, "zero": false}, "axis": {"title": "VISIT_J", "values": [1,2,3,4,5,6]}},
                  "y": {"field": "y", "type": "quantitative", "scale": {"domain": [-2.8, 2.96], "nice": false, "zero": false}, "axis": {"title": ["SHAP value for", "VISIT_J"], "values": [-2,-1,0,1,2]}}}},
    {"title": "Ferry Mode dependence plot", "width": 179, "height": 145, "data": {"name": "ferry_visit_j"}, "mark": {"type": "point", "color": "#0000FF"},
     "encoding": {"x": {"field": "x", "type": "quantitative", "scale": {"domain": [0.75, 6.25], "nice": false, "zero": false}, "axis": {"title": "VISIT_J", "values": [1,2,3,4,5,6]}},
                  "y": {"field": "y", "type": "quantitative", "scale": {"domain": [-3.34, 2.56], "nice": false, "zero": false}, "axis": {"title": ["SHAP value for", "VISIT_J"], "values": [-3,-2,-1,0,1,2]}}}},
    {"title": "Train Mode dependence plot", "width": 177, "height": 145, "data": {"name": "train_visit_j"}, "mark": {"type": "point", "color": "#FF0000"},
     "encoding": {"x": {"field": "x", "type": "quantitative", "scale": {"domain": [0.75, 6.25], "nice": false, "zero": false}, "axis": {"title": "VISIT_J", "values": [1,2,3,4,5,6]}},
                  "y": {"field": "y", "type": "quantitative", "scale": {"domain": [-2.9, 3.32], "nice": false, "zero": false}, "axis": {"title": ["SHAP value for", "VISIT_J"], "values": [-2,-1,0,1,2,3]}}}}
  ],
  "config": {
    "font": "DejaVu Sans",
    "background": "#FFFFFF",
    "view": {"fill": "#EAEAF2", "stroke": null},
    "axis": {
      "grid": true, "gridColor": "#FFFFFF", "gridWidth": 1,
      "domainColor": "#555555", "domainWidth": 1,
      "tickColor": "#555555", "tickSize": 2.5, "tickWidth": 0.8,
      "labelFont": "DejaVu Sans", "labelFontSize": 5.6, "labelColor": "#4A4A4A", "labelPadding": 1.5,
      "labelFlush": false, "labelOverlap": false,
      "titleFont": "DejaVu Sans", "titleFontSize": 6.6, "titleFontWeight": "normal", "titleColor": "#4A4A4A", "titlePadding": 2.5, "titleLineHeight": 8
    },
    "axisX": {"titlePadding": 1.5},
    "title": {"font": "DejaVu Sans", "fontSize": 7.7, "fontWeight": "normal", "color": "#3A3A3A", "offset": 3, "frame": "group", "anchor": "middle"},
    "point": {"filled": true, "size": 18, "opacity": 0.5, "strokeWidth": 0}
  }
}
